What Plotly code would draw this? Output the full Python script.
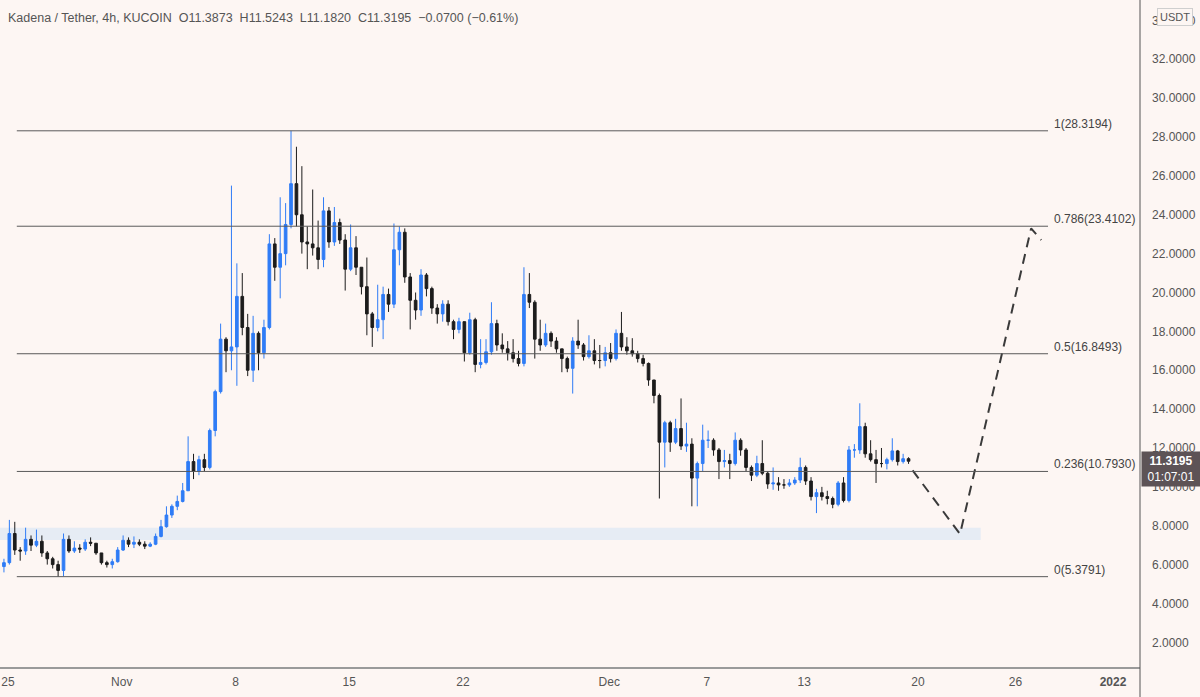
import plotly.graph_objects as go
import pandas as pd

# ---------------- data (8h candles) ----------------
candle_start = "2021-10-24 18:00"
first_open = 5.9
close = [
    6.1,
    7.6, 6.75, 6.7,      # Oct 25
    7.3, 7.0, 7.2,       # Oct 26
    6.6, 6.3, 6.0,       # Oct 27
    5.7, 7.3, 6.7,       # Oct 28
    6.85, 6.8, 7.15,     # Oct 29
    7.1, 6.6, 6.1,       # Oct 30
    6.0, 6.15, 6.75,     # Oct 31
    7.25, 7.05, 7.15,    # Nov 1
    7.05, 6.95, 7.05,    # Nov 2
    7.45, 7.95, 8.55,    # Nov 3
    9.0, 9.25, 9.8,      # Nov 4
    11.3, 10.8, 11.4,    # Nov 5
    11.0, 12.9, 14.9,    # Nov 6
    17.6, 17.0, 17.2,    # Nov 7
    19.8, 18.2, 16.0,    # Nov 8
    17.9, 16.9, 18.2,    # Nov 9
    22.5, 21.3, 22.0,    # Nov 10
    23.5, 25.6, 24.0,    # Nov 11
    22.6, 22.5, 22.3,    # Nov 12
    21.7, 24.2, 22.6,    # Nov 13
    23.6, 22.7, 21.2,    # Nov 14
    22.3, 21.3, 20.3,    # Nov 15
    18.9, 18.2, 18.6,    # Nov 16
    19.9, 19.4, 22.2,    # Nov 17
    23.1, 20.8, 19.6,    # Nov 18
    19.1, 20.9, 20.2,    # Nov 19
    19.2, 18.9, 19.4,    # Nov 20
    18.5, 18.1, 18.5,    # Nov 21
    16.9, 18.6, 16.3,    # Nov 22
    16.4, 16.95, 18.4,   # Nov 23
    17.3, 17.1, 16.9,    # Nov 24
    16.6, 16.35, 19.9,   # Nov 25
    19.5, 17.6, 17.3,    # Nov 26
    17.9, 17.5, 17.1,    # Nov 27
    16.6, 16.1, 17.5,    # Nov 28
    17.3, 16.7, 17.0,    # Nov 29
    16.5, 16.5, 16.9,    # Nov 30
    16.6, 17.9, 17.2,    # Dec 1
    17.0, 16.85, 16.6,   # Dec 2
    16.35, 15.5, 14.7,   # Dec 3
    12.3, 13.3, 12.3,    # Dec 4
    13.0, 12.1, 12.2,    # Dec 5
    10.45, 11.2, 12.4,   # Dec 6
    12.4, 11.9, 11.3,    # Dec 7
    11.35, 11.2, 12.4,   # Dec 8
    11.9, 11.0, 10.6,    # Dec 9
    11.2, 10.7, 10.15,   # Dec 10
    10.2, 10.1, 10.1,    # Dec 11
    10.2, 10.35, 11.0,   # Dec 12
    10.3, 9.5, 9.7,      # Dec 13
    9.5, 9.4, 9.1,       # Dec 14
    10.2, 9.3, 11.9,     # Dec 15
    11.9, 13.1, 11.7,    # Dec 16
    11.4, 11.2, 11.2,    # Dec 17
    11.4, 11.85, 11.3,   # Dec 18
    11.45, 11.3195,      # Dec 19
]
high = [
    6.3,
    8.3, 8.2, 6.9,
    7.9, 7.5, 7.8,
    7.5, 6.7, 6.4,
    6.2, 7.6, 7.5,
    7.2, 7.05, 7.3,
    7.4, 7.1, 6.6,
    6.2, 6.3, 6.9,
    7.5, 7.4, 7.45,
    7.3, 7.2, 7.15,
    7.6, 8.3, 9.0,
    9.1, 9.55, 10.2,
    12.6, 11.7, 11.6,
    11.7, 13.0, 15.0,
    18.4, 17.7, 25.5,
    21.5, 21.0, 18.9,
    18.8, 18.0, 18.6,
    23.0, 22.8, 24.9,
    24.6, 28.32, 27.5,
    26.5, 23.4, 25.3,
    23.7, 24.9, 24.4,
    24.4, 23.8, 23.0,
    23.5, 22.9, 21.3,
    21.8, 19.0, 20.4,
    20.3, 20.2, 23.55,
    23.4, 23.3, 21.0,
    20.0, 21.2, 21.0,
    20.3, 19.4, 19.6,
    19.6, 18.6, 18.7,
    18.5, 18.96, 18.7,
    17.6, 17.6, 19.5,
    18.6, 17.9, 17.5,
    17.6, 17.0, 21.3,
    21.0, 19.6, 18.6,
    18.4, 18.0, 17.7,
    17.1, 16.7, 17.7,
    18.6, 17.4, 17.8,
    17.6, 17.3, 17.2,
    17.4, 18.1, 19.0,
    17.7, 17.65, 17.0,
    16.8, 16.4, 15.5,
    14.8, 13.4, 13.4,
    13.5, 14.55, 13.3,
    12.5, 11.3, 13.2,
    12.9, 12.5, 12.0,
    11.9, 11.7, 12.8,
    12.5, 12.0, 11.1,
    11.6, 12.4, 10.8,
    11.0, 10.5, 10.4,
    10.4, 10.5, 11.5,
    11.1, 10.5, 9.9,
    10.0, 9.8, 9.5,
    10.3, 10.5, 12.1,
    12.2, 14.3, 13.3,
    12.4, 11.9, 12.0,
    11.5, 12.5, 11.9,
    11.7, 11.5243,
]
low = [
    5.6,
    6.0, 6.5, 6.2,
    6.5, 6.7, 6.9,
    6.4, 6.0, 5.8,
    5.38, 5.4, 6.6,
    6.6, 6.6, 6.7,
    6.95, 6.5, 6.0,
    5.85, 5.8, 6.1,
    6.7, 6.9, 6.85,
    6.95, 6.8, 6.9,
    7.0, 7.4, 7.9,
    8.4, 8.8, 9.2,
    9.8, 10.4, 10.6,
    10.8, 10.9, 12.6,
    14.8, 15.9, 16.0,
    15.2, 17.8, 15.7,
    15.4, 16.0, 16.6,
    18.1, 20.6, 19.7,
    21.4, 23.3, 23.4,
    22.0, 21.2, 21.9,
    21.2, 21.3, 22.3,
    22.4, 22.5, 20.1,
    21.1, 20.9, 19.9,
    17.8, 17.2, 18.0,
    17.6, 19.0, 19.2,
    21.4, 20.5, 18.1,
    18.6, 18.8, 19.8,
    18.9, 18.4, 18.5,
    18.3, 17.6, 17.9,
    16.45, 16.8, 15.9,
    16.1, 16.3, 16.8,
    17.0, 16.9, 16.5,
    16.4, 16.2, 16.2,
    19.2, 16.6, 17.0,
    17.2, 17.2, 16.9,
    15.9, 15.9, 14.8,
    17.1, 16.5, 16.6,
    16.3, 16.1, 16.2,
    16.4, 16.5, 17.0,
    16.8, 16.7, 16.4,
    16.2, 15.2, 14.3,
    9.4, 11.0, 11.8,
    12.2, 11.9, 11.8,
    9.0, 9.0, 10.8,
    12.0, 11.6, 10.4,
    11.0, 10.4, 11.1,
    11.6, 10.8, 10.3,
    10.5, 10.6, 9.9,
    9.85, 9.8, 9.9,
    10.0, 10.1, 10.2,
    10.1, 9.3, 8.65,
    9.3, 9.1, 8.9,
    9.0, 9.2, 9.2,
    11.5, 11.7, 11.5,
    11.3, 10.2, 11.0,
    10.9, 11.3, 11.1,
    11.2, 11.182,
]

fib_labels = ["1(28.3194)", "0.786(23.4102)", "0.5(16.8493)", "0.236(10.7930)", "0(5.3791)"]
fib_values = [28.3194, 23.4102, 16.8493, 10.7930, 5.3791]
fib_start = "2021-10-25 13:00"
fib_end = "2021-12-28 00:00"

zone_low, zone_high = 7.27, 7.90
zone_start, zone_end = "2021-10-20 00:00", "2021-12-23 20:30"

proj_dates = ["2021-12-19 16:00", "2021-12-22 14:00", "2021-12-26 23:00", "2021-12-27 14:00"]
proj_values = [10.85, 7.57, 23.30, 22.70]

tick_dates = ["2021-10-25", "2021-11-01", "2021-11-08", "2021-11-15", "2021-11-22",
              "2021-12-01", "2021-12-07", "2021-12-13", "2021-12-20", "2021-12-26", "2022-01-01"]
tick_text = ["25", "Nov", "8", "15", "22", "Dec", "7", "13", "20", "26", "<b>2022</b>"]
y_ticks = [2, 4, 6, 8, 10, 12, 14, 16, 18, 20, 22, 24, 26, 28, 30, 32, 34]

last_price = 11.3195
header = ("Kadena / Tether, 4h, KUCOIN\u00a0\u00a0O11.3873\u00a0\u00a0H11.5243\u00a0\u00a0"
          "L11.1820\u00a0\u00a0C11.3195\u00a0\u00a0\u22120.0700 (\u22120.61%)")

# ---------------- figure ----------------
BG = "#fdf6f3"
TXT = "#555555"
UP = "#2f7cf6"
DOWN = "#1c1c1c"

times = pd.date_range(candle_start, periods=len(close), freq="8h")
opens = [first_open] + close[:-1]

fig = go.Figure()

fig.add_trace(go.Candlestick(
    x=times, open=opens, high=high, low=low, close=close,
    increasing=dict(line=dict(color=UP, width=1), fillcolor=UP),
    decreasing=dict(line=dict(color=DOWN, width=1), fillcolor=DOWN),
    whiskerwidth=0, showlegend=False, hoverinfo="skip",
))

fig.add_trace(go.Scatter(
    x=pd.to_datetime(proj_dates), y=proj_values, mode="lines",
    line=dict(color="#3a3a3a", width=2, dash="10px,7px"),
    showlegend=False, hoverinfo="skip",
))

shapes = []
# support zone
shapes.append(dict(type="rect", xref="x", yref="y", x0=zone_start, x1=zone_end,
                   y0=zone_low, y1=zone_high, fillcolor="#e6ecf4", line=dict(width=0),
                   layer="below"))
# fib lines
for v in fib_values:
    shapes.append(dict(type="line", xref="x", yref="y", x0=fib_start, x1=fib_end,
                       y0=v, y1=v, line=dict(color="#5a5a5a", width=1)))
# axis frame lines
shapes.append(dict(type="line", xref="paper", yref="paper", x0=0, x1=1, y0=0, y1=0,
                   line=dict(color="#9a9a9a", width=2)))
shapes.append(dict(type="line", xref="paper", yref="paper", x0=1, x1=1, y0=-0.05, y1=1,
                   line=dict(color="#555555", width=1)))

annotations = []
for lab, v in zip(fib_labels, fib_values):
    annotations.append(dict(x=fib_end, y=v, xref="x", yref="y", text=lab,
                            showarrow=False, xanchor="left", yanchor="bottom",
                            xshift=4, yshift=-2,
                            font=dict(family="Liberation Sans", size=12, color="#444444")))
annotations.append(dict(x=0, y=1, xref="paper", yref="paper", text=header,
                        showarrow=False, xanchor="left", yanchor="top", xshift=6, yshift=-9,
                        font=dict(family="Liberation Sans", size=12.5, color=TXT)))
annotations.append(dict(x=1, y=last_price, xref="paper", yref="y",
                        text="<b>11.3195</b><br>01:07:01", showarrow=False,
                        xanchor="left", yanchor="middle", xshift=1, yshift=-8,
                        width=56, height=32, align="center", bgcolor="#5d5356", borderpad=1,
                        font=dict(family="Liberation Sans", size=12, color="#ffffff")))
annotations.append(dict(x=1, y=1, xref="paper", yref="paper", text="USDT",
                        showarrow=False, xanchor="left", yanchor="top", xshift=17, yshift=-8,
                        bgcolor=BG, bordercolor="#cfcfcf", borderwidth=1, borderpad=2,
                        font=dict(family="Liberation Sans", size=11, color=TXT)))

fig.update_layout(
    width=1200, height=697,
    margin=dict(l=0, r=60, t=0, b=29),
    paper_bgcolor=BG, plot_bgcolor=BG,
    shapes=shapes, annotations=annotations,
    showlegend=False,
    xaxis=dict(
        type="date", range=["2021-10-24 12:11", "2022-01-02 15:50"],
        tickvals=pd.to_datetime(tick_dates), ticktext=tick_text,
        showgrid=False, zeroline=False, showline=False, ticks="",
        ticklabelstandoff=5,
        tickfont=dict(family="Liberation Sans", size=12, color=TXT),
        rangeslider=dict(visible=False), fixedrange=True,
    ),
    yaxis=dict(
        side="right", range=[0.68, 35.05], tickvals=y_ticks, tickformat=".4f",
        showgrid=False, zeroline=False, showline=False, ticks="",
        ticklabelstandoff=11,
        tickfont=dict(family="Liberation Sans", size=12, color=TXT),
        fixedrange=True,
    ),
)

fig.write_html("out.html")
